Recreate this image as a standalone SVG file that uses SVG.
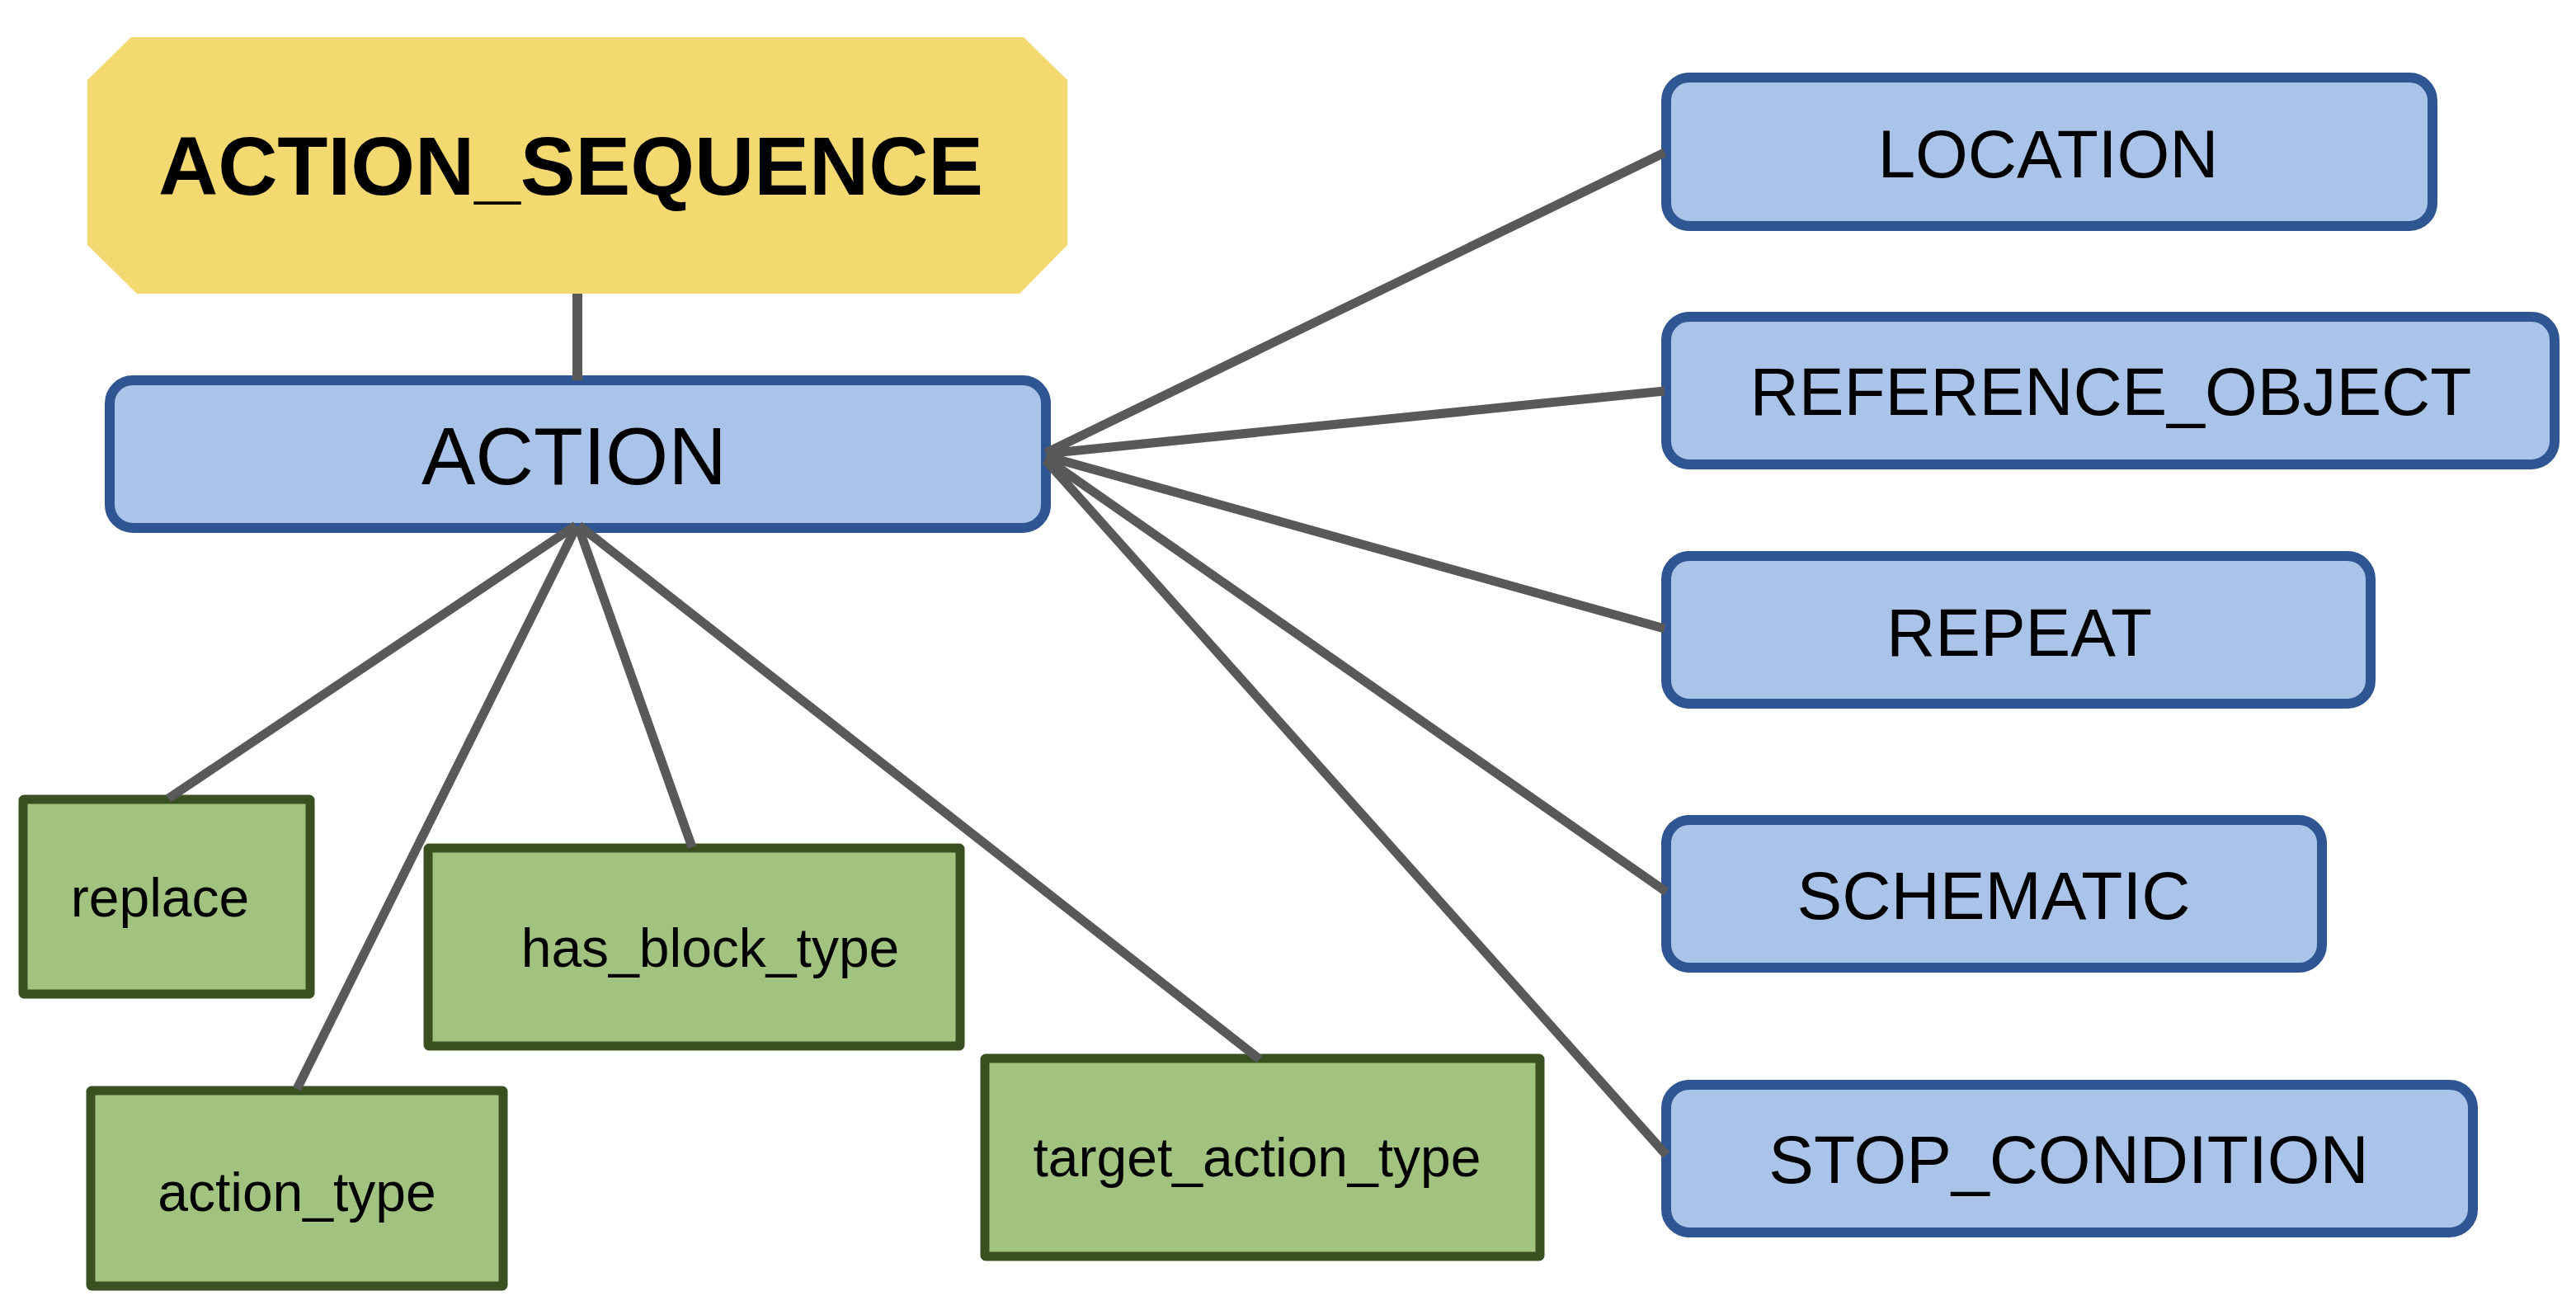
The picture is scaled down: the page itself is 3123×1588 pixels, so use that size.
<svg xmlns="http://www.w3.org/2000/svg" width="3123" height="1588" viewBox="0 0 3123 1588">
<style>
.blue{fill:#A9C4E8;stroke:#2F5592;stroke-width:12}
.green{fill:#A2C37F;stroke:#3A5020;stroke-width:11}
.seq{fill:#F4D870}
.t{font-family:"Liberation Sans",Arial,sans-serif;fill:#000;text-anchor:middle}
.conn line{stroke:#595959;stroke-width:11;stroke-linecap:butt}
</style>
<rect width="3123" height="1588" fill="#fff"/>
<g id="node-action-sequence">
<polygon class="seq" points="159,45 1241,45 1294,97 1294,297 1236,356 166,356 106,297 106,97"/>
<text class="t" x="692" y="236" font-size="100" font-weight="bold">ACTION_SEQUENCE</text>
</g>
<g id="node-action">
<rect class="blue" x="133" y="461" width="1135" height="179" rx="28"/>
<text class="t" x="696" y="587" font-size="98">ACTION</text>
</g>
<g id="node-location">
<rect class="blue" x="2020" y="94" width="929" height="180" rx="28"/>
<text class="t" x="2483" y="215" font-size="82">LOCATION</text>
</g>
<g id="node-reference-object">
<rect class="blue" x="2020" y="384" width="1077" height="179" rx="28"/>
<text class="t" x="2559" y="503" font-size="82">REFERENCE_OBJECT</text>
</g>
<g id="node-repeat">
<rect class="blue" x="2020" y="674" width="854" height="179" rx="28"/>
<text class="t" x="2448" y="795" font-size="82">REPEAT</text>
</g>
<g id="node-schematic">
<rect class="blue" x="2020" y="994" width="795" height="179" rx="28"/>
<text class="t" x="2417" y="1114" font-size="82">SCHEMATIC</text>
</g>
<g id="node-stop-condition">
<rect class="blue" x="2020" y="1315" width="978" height="179" rx="28"/>
<text class="t" x="2508" y="1434" font-size="82">STOP_CONDITION</text>
</g>
<g id="node-replace">
<rect class="green" x="28" y="969" width="348" height="236" rx="1"/>
<text class="t" x="194" y="1111" font-size="66">replace</text>
</g>
<g id="node-action-type">
<rect class="green" x="110" y="1322" width="500" height="237" rx="1"/>
<text class="t" x="360" y="1468" font-size="66">action_type</text>
</g>
<g id="node-has-block-type">
<rect class="green" x="519" y="1028" width="645" height="240" rx="1"/>
<text class="t" x="861" y="1172" font-size="66">has_block_type</text>
</g>
<g id="node-target-action-type">
<rect class="green" x="1194" y="1283" width="673" height="240" rx="1"/>
<text class="t" x="1524" y="1426" font-size="66">target_action_type</text>
</g>
<g id="connectors" class="conn">
<line x1="700" y1="356" x2="700" y2="461" style="stroke-width:12"/>
<line x1="1268" y1="549" x2="2018" y2="185"/>
<line x1="1268" y1="550" x2="2018" y2="474"/>
<line x1="1268" y1="553" x2="2018" y2="762"/>
<line x1="1268" y1="556" x2="2020" y2="1081"/>
<line x1="1268" y1="558" x2="2020" y2="1400"/>
<line x1="698" y1="637" x2="204" y2="968"/>
<line x1="699" y1="638" x2="360" y2="1320"/>
<line x1="701" y1="638" x2="839" y2="1027"/>
<line x1="702" y1="637" x2="1527" y2="1284"/>
</g>
</svg>
